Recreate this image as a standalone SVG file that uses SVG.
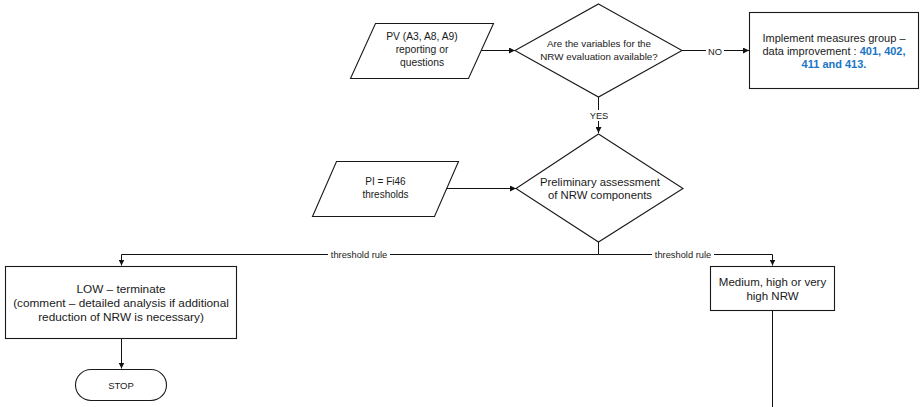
<svg xmlns="http://www.w3.org/2000/svg" width="920" height="407" viewBox="0 0 920 407">
  <defs>
    <marker id="arrow" viewBox="0 0 10 10" refX="10" refY="5" markerWidth="6" markerHeight="6" markerUnits="userSpaceOnUse" orient="auto">
      <path d="M0,0 L10,5 L0,10 z" fill="#111"/>
    </marker>
    <style>
      .shape { fill: #fff; stroke: #1a1a1a; stroke-width: 1.1; }
      .conn { fill: none; stroke: #111; stroke-width: 1; }
      .t { font-family: "Liberation Sans", Arial, sans-serif; fill: #1a1a1a; text-anchor: middle; }
      .lbl { font-family: "Liberation Sans", Arial, sans-serif; fill: #1a1a1a; text-anchor: middle; font-size: 9.3px; }
      .lblbg { fill: #fff; }
      .blue { fill: #1b75c4; font-weight: bold; }
    </style>
  </defs>
  <rect width="920" height="407" fill="#fff"/>

  <!-- connectors -->
  <g id="connectors">
    <path class="conn" d="M469,50.5 H515" marker-end="url(#arrow)"/>
    <path class="conn" d="M682,50.5 H749" marker-end="url(#arrow)"/>
    <path class="conn" d="M598.5,97 V133" marker-end="url(#arrow)"/>
    <path class="conn" d="M446,188.5 H516" marker-end="url(#arrow)"/>
    <path class="conn" d="M598.5,242 V254.5"/>
    <path class="conn" d="M598.5,254.5 H121.5 V265.5" marker-end="url(#arrow)"/>
    <path class="conn" d="M598.5,254.5 H772.5 V265.5" marker-end="url(#arrow)"/>
    <path class="conn" d="M121.5,339 V368.5" marker-end="url(#arrow)"/>
    <path class="conn" d="M772.5,311 V407"/>

    <rect class="lblbg" x="706" y="45" width="18" height="11"/>
    <text class="lbl" x="715" y="54.5" font-size="10">NO</text>
    <rect class="lblbg" x="589" y="110" width="20" height="11"/>
    <text class="lbl" x="599" y="118.5">YES</text>
    <rect class="lblbg" x="328" y="249" width="62" height="11"/>
    <text class="lbl" x="359" y="258">threshold rule</text>
    <rect class="lblbg" x="652" y="249" width="62" height="11"/>
    <text class="lbl" x="683" y="258">threshold rule</text>
  </g>

  <!-- input: PV reporting -->
  <g id="pv-input">
    <polygon class="shape" points="375.5,23.5 493.5,23.5 468.5,78.5 350.5,78.5"/>
    <text class="t" font-size="10.3px"><tspan x="422" y="39.5">PV (A3, A8, A9)</tspan><tspan x="422" y="52.5">reporting or</tspan><tspan x="422" y="65.5">questions</tspan></text>
  </g>

  <!-- decision: variables available -->
  <g id="variables-decision">
    <polygon class="shape" points="598.5,4 682,50.5 598.5,97 515,50.5"/>
    <text class="t" font-size="9.8px"><tspan x="599" y="47">Are the variables for the</tspan><tspan x="599" y="60">NRW evaluation available?</tspan></text>
  </g>

  <!-- action: data improvement -->
  <g id="data-improvement">
    <rect class="shape" x="749.5" y="12.5" width="169" height="76"/>
    <text class="t" font-size="11px"><tspan x="834" y="41.5">Implement measures group –</tspan><tspan x="834" y="54.5">data improvement : <tspan class="blue">401, 402,</tspan></tspan><tspan x="834" y="67.5" class="blue">411 and 413.</tspan></text>
  </g>

  <!-- input: PI thresholds -->
  <g id="pi-input">
    <polygon class="shape" points="336.5,161.5 458.5,161.5 434.5,216.5 312.5,216.5"/>
    <text class="t" font-size="10px"><tspan x="385.5" y="185">PI = Fi46</tspan><tspan x="385.5" y="198">thresholds</tspan></text>
  </g>

  <!-- decision: preliminary assessment -->
  <g id="assessment-decision">
    <polygon class="shape" points="598.5,134 683,188.5 598.5,242 516,188.5"/>
    <text class="t" font-size="11.3px"><tspan x="600" y="185.5">Preliminary assessment</tspan><tspan x="600" y="199">of NRW components</tspan></text>
  </g>

  <!-- outcome: low -->
  <g id="low-terminate">
    <rect class="shape" x="5.5" y="266.5" width="231" height="72"/>
    <text class="t" font-size="11.8px"><tspan x="121" y="293">LOW – terminate</tspan><tspan x="121" y="307">(comment – detailed analysis if additional</tspan><tspan x="121" y="321">reduction of NRW is necessary)</tspan></text>
  </g>

  <!-- terminator -->
  <g id="stop">
    <rect class="shape" x="75.5" y="369.5" width="91" height="31" rx="15.5" ry="15.5"/>
    <text class="t" font-size="9.5px" x="121" y="388.5">STOP</text>
  </g>

  <!-- outcome: medium / high -->
  <g id="medium-high">
    <rect class="shape" x="710.5" y="266.5" width="124" height="44"/>
    <text class="t" font-size="11.5px"><tspan x="772.5" y="286">Medium, high or very</tspan><tspan x="772.5" y="299.5">high NRW</tspan></text>
  </g>
</svg>
